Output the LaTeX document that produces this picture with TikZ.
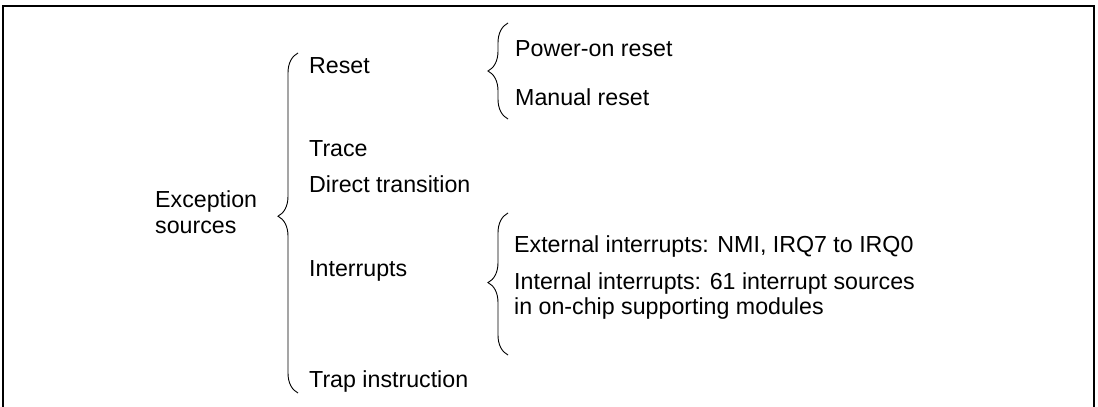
\documentclass[tikz,border=0pt]{standalone}
\usepackage{fontspec}
\setmainfont{Liberation Sans}
\usetikzlibrary{decorations.pathreplacing}

\begin{document}
\begin{tikzpicture}[x=1pt, y=-1pt,
  lbl/.style={anchor=base west, inner sep=0pt,
              font=\fontsize{23.2}{27}\selectfont},
  curly/.style={decorate, line width=0.9pt,
                decoration={brace, amplitude=20pt, aspect=#1}},
  curly/.default=0.5,
  frame/.style={line width=1.5pt},
]
\useasboundingbox (0,0) rectangle (1098,407);
\draw[frame] (3,412) -- (3,6) -- (1094,6) -- (1094,412);

% root
\node[lbl] (exc) at (155,207) {Exception};
\node[lbl] (src) at (155,233) {sources};

% first level
\node[lbl] (reset)  at (309,73)  {Reset};
\node[lbl] (trace)  at (309,156) {Trace};
\node[lbl] (direct) at (309,192) {Direct transition};
\node[lbl] (intr)   at (309,276) {Interrupts};
\node[lbl] (trap)   at (309,387) {Trap instruction};

% second level
\node[lbl] (pwr)  at (515,56)  {Power-on reset};
\node[lbl] (man)  at (515,105) {Manual reset};
\node[lbl] (ext)  at (514,252) {External interrupts: NMI, IRQ7 to IRQ0};
\node[lbl] (int)  at (514,289) {Internal interrupts: 61 interrupt sources};
\node[lbl] (int2) at (514,314) {in on-chip supporting modules};

% brace ends
\coordinate (b1a) at (298,393);
\coordinate (b1b) at (298,53);
\coordinate (b2a) at (508,119);
\coordinate (b2b) at (508,23);
\coordinate (b3a) at (508,355);
\coordinate (b3b) at (508,213);

\draw[curly=0.52] (b1a) -- (b1b);
\draw[curly] (b2a) -- (b2b);
\draw[curly=0.51] (b3a) -- (b3b);
\end{tikzpicture}
\end{document}
